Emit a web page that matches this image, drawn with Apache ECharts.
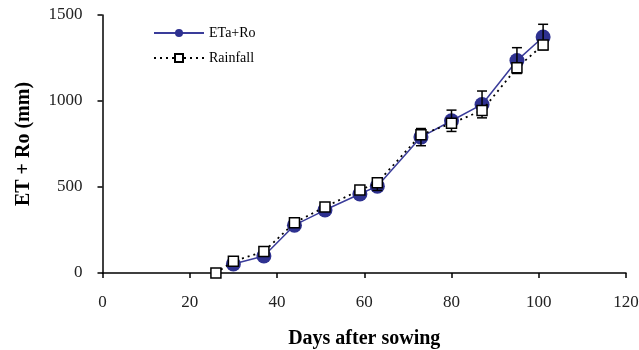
<!DOCTYPE html>
<html>
<head>
<meta charset="utf-8">
<script src="https://cdn.jsdelivr.net/npm/echarts@6/dist/echarts.min.js"></script>
<style>
  html, body { margin: 0; padding: 0; background: #fff; }
  #chart { width: 639px; height: 350px; }
</style>
</head>
<body>
<div id="chart"></div>
<script>
// days after sowing and cumulative values (mm)
const etaDays = [30, 37, 44, 51, 59, 63, 73, 80, 87, 95, 101];
const etaValues = [52, 99, 278, 366, 459, 505, 790, 885, 980, 1235, 1372];
const etaError = [0, 0, 0, 0, 0, 25, 50, 62, 78, 75, 74];

const rainDays = [26, 30, 37, 44, 51, 59, 63, 73, 80, 87, 95, 101];
const rainValues = [0, 68, 125, 292, 384, 482, 525, 804, 870, 945, 1194, 1326];

const xTicks = [0, 20, 40, 60, 80, 100, 120];
const yTicks = [0, 500, 1000, 1500];

const FONT = '"Liberation Serif", "DejaVu Serif", serif';

const chart = echarts.init(document.getElementById('chart'));

const errData = etaDays
    .map((d, i) => [d, etaValues[i] - etaError[i], etaValues[i] + etaError[i]])
    .filter((r, i) => etaError[i] > 0);

chart.setOption({
    animation: false,
    textStyle: { fontFamily: FONT },
    grid: { left: 102.5, right: 13, top: 15, bottom: 77, outerBoundsMode: 'none', containLabel: false },
    legend: {
        left: 148,
        top: 21,
        orient: 'vertical',
        itemWidth: 50,
        itemHeight: 10,
        itemGap: 11,
        textStyle: { fontFamily: FONT, fontSize: 14, color: '#000' },
        data: ['ETa+Ro', 'Rainfall']
    },
    xAxis: {
        type: 'value',
        min: xTicks[0],
        max: xTicks[xTicks.length - 1],
        interval: 20,
        name: 'Days after sowing',
        nameLocation: 'middle',
        nameGap: 56,
        nameTextStyle: { fontFamily: FONT, fontSize: 20, fontWeight: 'bold', color: '#000' },
        axisLine: { lineStyle: { color: '#000', width: 1.5 } },
        axisTick: { inside: false, length: 5, lineStyle: { color: '#000', width: 1.5 } },
        axisLabel: { fontFamily: FONT, fontSize: 17, color: '#222', margin: 21 },
        splitLine: { show: false }
    },
    yAxis: {
        type: 'value',
        min: yTicks[0],
        max: yTicks[yTicks.length - 1],
        interval: 500,
        name: 'ET + Ro (mm)',
        nameLocation: 'middle',
        nameGap: 69,
        nameTextStyle: { fontFamily: FONT, fontSize: 20, fontWeight: 'bold', color: '#000' },
        axisLine: { show: true, lineStyle: { color: '#000', width: 1.5 } },
        axisTick: { show: true, inside: false, length: 5, lineStyle: { color: '#000', width: 1.5 } },
        axisLabel: { fontFamily: FONT, fontSize: 17, color: '#222', margin: 20, formatter: v => String(v) },
        splitLine: { show: false }
    },
    series: [
        {
            name: 'ETa+Ro',
            type: 'line',
            z: 2,
            data: etaDays.map((d, i) => [d, etaValues[i]]),
            symbol: 'circle',
            symbolSize: 15,
            lineStyle: { color: '#3a3c9a', width: 1.5 },
            itemStyle: { color: '#2e3190' }
        },
        {
            name: 'err',
            type: 'custom',
            z: 3,
            data: errData,
            renderItem: function (params, api) {
                const x = api.coord([api.value(0), api.value(1)])[0];
                const lo = api.coord([api.value(0), api.value(1)])[1];
                const hi = api.coord([api.value(0), api.value(2)])[1];
                const cap = 5;
                const style = { stroke: '#000', lineWidth: 1.5 };
                return {
                    type: 'group',
                    children: [
                        { type: 'line', shape: { x1: x, y1: lo, x2: x, y2: hi }, style: style },
                        { type: 'line', shape: { x1: x - cap, y1: lo, x2: x + cap, y2: lo }, style: style },
                        { type: 'line', shape: { x1: x - cap, y1: hi, x2: x + cap, y2: hi }, style: style }
                    ]
                };
            }
        },
        {
            name: 'Rainfall',
            type: 'line',
            z: 4,
            data: rainDays.map((d, i) => [d, rainValues[i]]),
            symbol: 'rect',
            symbolSize: 10,
            lineStyle: { color: '#000', width: 1.8, type: [2, 4] },
            itemStyle: { color: '#fff', borderColor: '#000', borderWidth: 1.5 }
        }
    ]
});
</script>
</body>
</html>
